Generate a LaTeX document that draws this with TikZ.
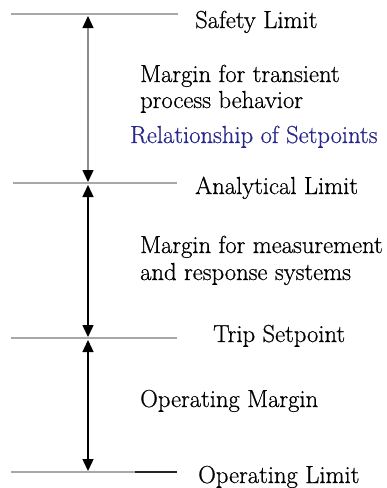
\documentclass[tikz,border=0pt]{standalone}
\usepackage{fontspec}
\setmainfont{Latin Modern Roman}[FakeBold=0.6]
\usetikzlibrary{arrows.meta}
\definecolor{levelgray}{HTML}{A8A8A8}
\definecolor{shaftgray}{HTML}{8C8C8C}
\definecolor{titleblue}{RGB}{40,40,140}
\begin{document}
\begin{tikzpicture}[x=1pt,y=-1pt,
  level/.style={draw=levelgray,line width=2pt},
  tip/.tip={Triangle[width=11pt,length=12pt,color=black]},
  span/.style={line width=1.4pt,tip-tip},
  lvltext/.style={anchor=base west,inner sep=0pt,font=\fontsize{24.6}{29}\selectfont,text=black}]
\useasboundingbox (0,0) rectangle (387,488);
% level lines
\coordinate (s1) at (11,14);  \coordinate (s2) at (178,14);
\coordinate (a1) at (13,183); \coordinate (a2) at (177,183);
\coordinate (t1) at (11,338); \coordinate (t2) at (177,338);
\coordinate (o1) at (11,472); \coordinate (om) at (135,472); \coordinate (o2) at (177,472);
\draw[level] (s1) -- (s2);
\draw[level] (a1) -- (a2);
\draw[level] (t1) -- (t2);
\draw[level] (o1) -- (om);
\draw[line width=2pt,black!85] (om) -- (o2);
% spans between levels
\coordinate (sa) at (88,16);  \coordinate (as) at (88,182);
\coordinate (at) at (88,185); \coordinate (ta) at (88,337);
\coordinate (to) at (88,340); \coordinate (ot) at (88,471);
\draw[span,draw=shaftgray] (sa) -- (as);
\draw[span] (at) -- (ta);
\draw[span] (to) -- (ot);
% level names
\node[lvltext] (safety) at (195,28) {Safety Limit};
\node[lvltext] (analytical) at (195,194) {Analytical Limit};
\node[lvltext] (trip) at (213,342) {Trip Setpoint};
\node[lvltext] (operating) at (198,483) {Operating Limit};
% margin descriptions
\node[lvltext] (transient1) at (140,82) {Margin for transient};
\node[lvltext] (transient2) at (140,108) {process behavior};
\node[lvltext,text=titleblue] (caption) at (130,143) {Relationship of Setpoints};
\node[lvltext] (measure1) at (140,253) {Margin for measurement};
\node[lvltext] (measure2) at (140,280) {and response systems};
\node[lvltext] (opmargin) at (140,407) {Operating Margin};
\end{tikzpicture}
\end{document}
